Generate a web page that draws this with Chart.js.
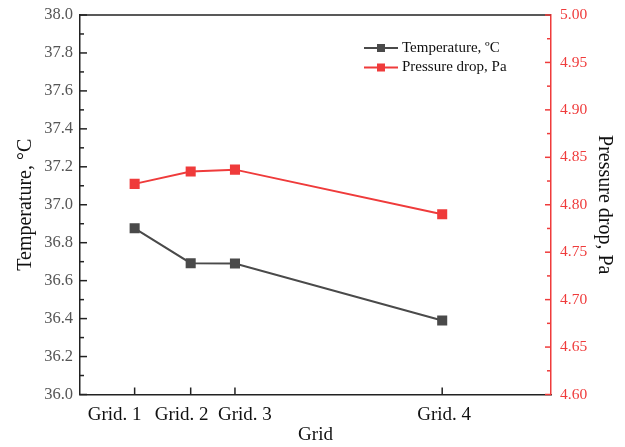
<!DOCTYPE html>
<html>
<head>
<meta charset="utf-8">
<script src="https://cdn.jsdelivr.net/npm/chart.js@4"></script>
<style>
  html, body { margin: 0; padding: 0; background: #fff; }
  #wrap { width: 625px; height: 447px; }
</style>
</head>
<body>
<div id="wrap"><canvas id="gridChart"></canvas></div>
<script>
const gridLabels = ['Grid. 1', 'Grid. 2', 'Grid. 3', 'Grid. 4'];
const gridX = [1.16, 2.35, 3.29, 7.69];
const temperature = [36.876, 36.692, 36.690, 36.390];
const pressureDrop = [4.822, 4.835, 4.837, 4.790];

const DARK = '#4a4a4a';
const RED = '#ef3b3b';
const FONT = '"Liberation Serif", "Times New Roman", serif';
// the labels are nudged sideways in the original so they don't collide
const labelShift = [-20, -9, 10, 2];

// inside ticks, top frame line, x labels and the legend box
const decorations = {
  id: 'decorations',
  afterDraw(chart) {
    const ctx = chart.ctx;
    const area = chart.chartArea;
    const x = chart.scales.x, yT = chart.scales.yT, yP = chart.scales.yP;
    ctx.save();
    ctx.lineWidth = 1.5;

    ctx.strokeStyle = '#222';
    ctx.beginPath();
    ctx.moveTo(area.left, area.top);
    ctx.lineTo(area.right, area.top);
    ctx.stroke();

    for (let i = 0; i <= 20; i++) {
      const py = yT.getPixelForValue(36 + i * 0.1);
      const len = i % 2 === 0 ? 7 : 4;
      ctx.beginPath();
      ctx.moveTo(area.left, py);
      ctx.lineTo(area.left + len, py);
      ctx.stroke();
    }
    ctx.font = '19px ' + FONT;
    ctx.textAlign = 'center';
    ctx.textBaseline = 'alphabetic';
    ctx.fillStyle = '#111';
    gridX.forEach((v, i) => {
      const px = x.getPixelForValue(v);
      ctx.beginPath();
      ctx.moveTo(px, area.bottom);
      ctx.lineTo(px, area.bottom - 7);
      ctx.stroke();
      ctx.fillText(gridLabels[i], px + labelShift[i], area.bottom + 25);
    });

    ctx.strokeStyle = RED;
    for (let i = 0; i <= 16; i++) {
      const py = yP.getPixelForValue(4.6 + i * 0.025);
      const len = i % 2 === 0 ? 6 : 4;
      ctx.beginPath();
      ctx.moveTo(area.right, py);
      ctx.lineTo(area.right - len, py);
      ctx.stroke();
    }

    // legend
    const items = [
      { text: 'Temperature, \u00baC', color: DARK },
      { text: 'Pressure drop, Pa', color: RED }
    ];
    ctx.font = '15px ' + FONT;
    ctx.textAlign = 'left';
    ctx.textBaseline = 'middle';
    items.forEach((it, i) => {
      const ly = 48 + i * 19.5;
      ctx.strokeStyle = it.color;
      ctx.lineWidth = 2;
      ctx.beginPath();
      ctx.moveTo(364, ly);
      ctx.lineTo(398, ly);
      ctx.stroke();
      ctx.fillStyle = it.color;
      ctx.fillRect(377, ly - 4, 8, 8);
      ctx.fillStyle = '#111';
      ctx.fillText(it.text, 402, ly);
    });
    ctx.restore();
  }
};

new Chart(document.getElementById('gridChart'), {
  type: 'line',
  data: {
    datasets: [
      {
        label: 'Temperature, \u00baC',
        data: gridX.map((v, i) => ({ x: v, y: temperature[i] })),
        yAxisID: 'yT',
        borderColor: DARK,
        backgroundColor: DARK,
        borderWidth: 2,
        pointStyle: 'rect',
        pointRadius: 5.7,
        tension: 0
      },
      {
        label: 'Pressure drop, Pa',
        data: gridX.map((v, i) => ({ x: v, y: pressureDrop[i] })),
        yAxisID: 'yP',
        borderColor: RED,
        backgroundColor: RED,
        borderWidth: 2,
        pointStyle: 'rect',
        pointRadius: 5.7,
        tension: 0
      }
    ]
  },
  options: {
    responsive: true,
    maintainAspectRatio: false,
    animation: false,
    layout: { padding: { top: 15, left: 0, right: 0, bottom: 0 } },
    plugins: { legend: { display: false }, tooltip: { enabled: false } },
    scales: {
      x: {
        type: 'linear',
        min: 0,
        max: 10,
        afterBuildTicks: s => { s.ticks = gridX.map(v => ({ value: v })); },
        afterFit: s => { s.height = 52.5; s.paddingLeft = 0; s.paddingRight = 0; },
        grid: { display: false, drawTicks: false },
        border: { color: '#222', width: 1.5 },
        ticks: { display: false },
        title: {
          display: true,
          text: 'Grid',
          color: '#111',
          font: { family: FONT, size: 19 },
          padding: { top: 0, bottom: 1 }
        }
      },
      yT: {
        position: 'left',
        min: 36,
        max: 38,
        afterFit: s => { s.width = 80; s.paddingTop = 0; s.paddingBottom = 0; },
        grid: { display: false, drawTicks: false },
        border: { color: '#222', width: 1.5 },
        ticks: {
          stepSize: 0.2,
          padding: 7,
          color: '#555',
          font: { family: FONT, size: 16.5 },
          callback: v => v.toFixed(1)
        },
        title: {
          display: true,
          text: 'Temperature, \u00b0C',
          color: '#111',
          font: { family: FONT, size: 20 },
          padding: { top: 14, bottom: 0 }
        }
      },
      yP: {
        position: 'right',
        min: 4.6,
        max: 5.0,
        afterFit: s => { s.width = 74; s.paddingTop = 0; s.paddingBottom = 0; },
        grid: { display: false, drawTicks: false },
        border: { color: RED, width: 1.5 },
        ticks: {
          stepSize: 0.05,
          padding: 9,
          color: RED,
          font: { family: FONT, size: 15.5 },
          callback: v => v.toFixed(2)
        },
        title: {
          display: true,
          text: 'Pressure drop, Pa',
          color: '#111',
          font: { family: FONT, size: 20 },
          padding: { top: 9, bottom: 0 }
        }
      }
    }
  },
  plugins: [decorations]
});
</script>
</body>
</html>
